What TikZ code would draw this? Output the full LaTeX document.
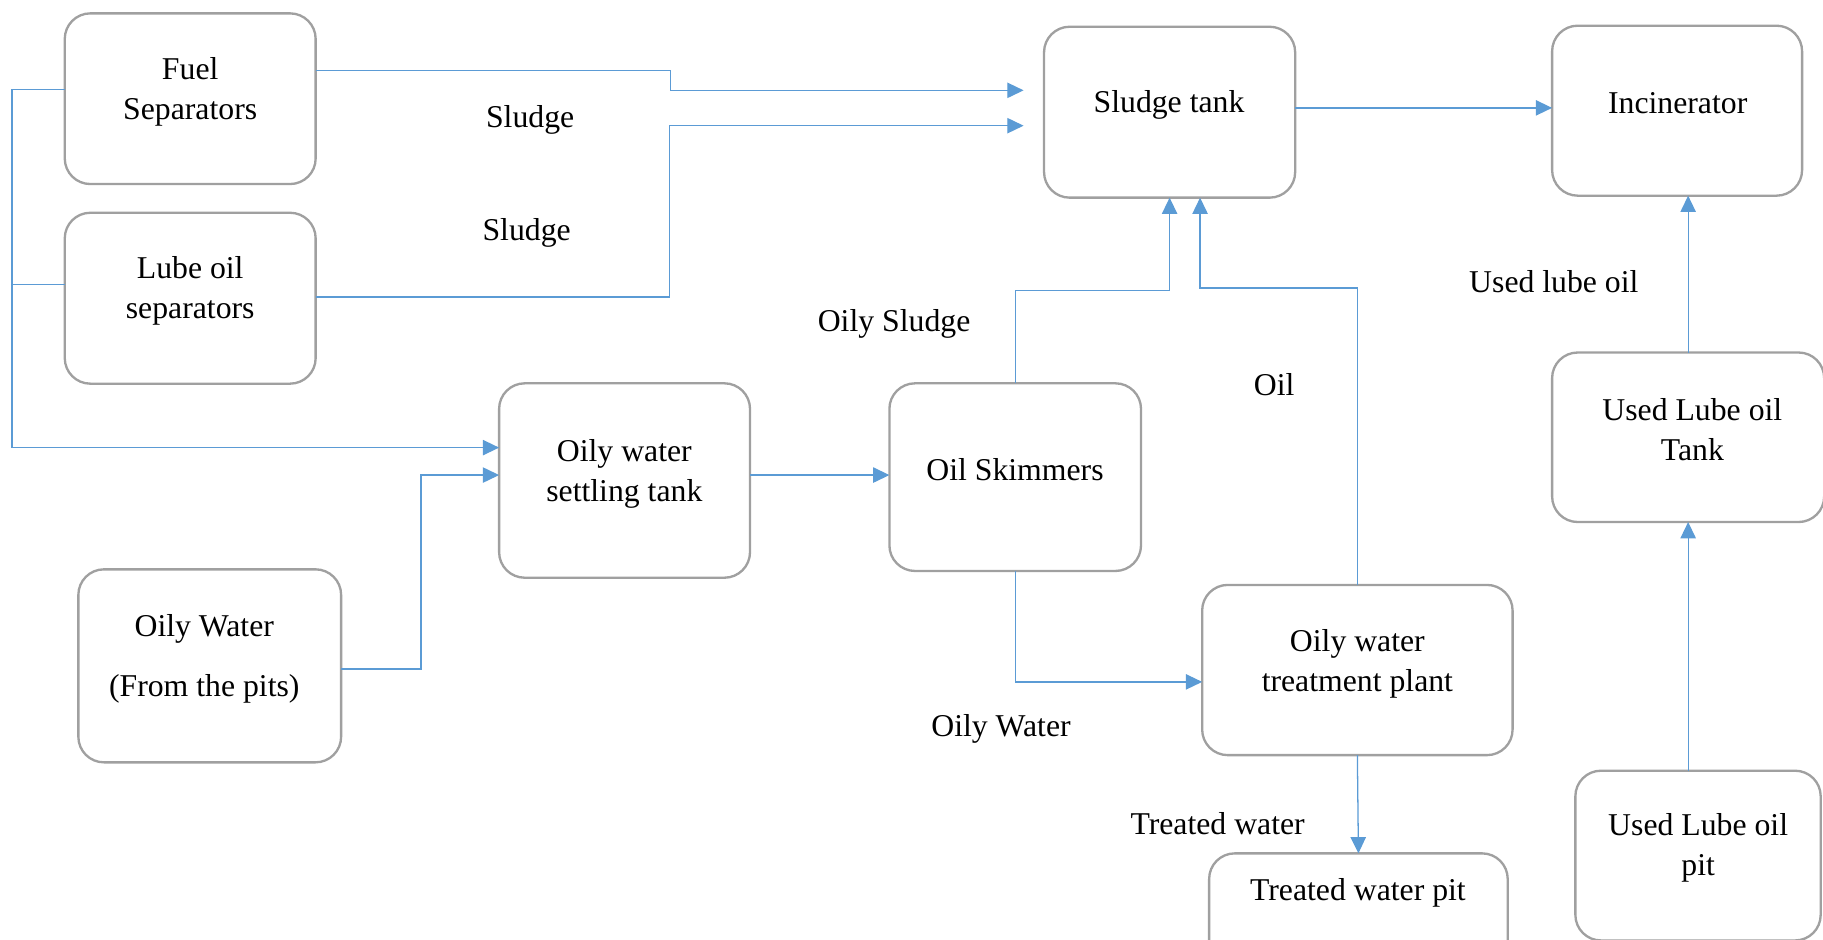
\documentclass[tikz,border=0pt]{standalone}
\usepackage{fontspec}
\setmainfont{Liberation Serif}
\usetikzlibrary{arrows.meta}
\definecolor{boxgray}{HTML}{A0A0A0}
\definecolor{linkblue}{HTML}{5B9BD5}
\begin{document}
\begin{tikzpicture}[x=0.5pt,y=-0.5pt,
  every node/.style={font=\fontsize{13.65pt}{17.2pt}\selectfont},
  box/.style={draw=boxgray, line width=1pt, rounded corners=11pt, inner sep=0pt, outer sep=0pt, fill=white},
  txt/.style={align=center, inner sep=0pt},
  lbl/.style={inner sep=0pt},
  conn/.style={draw=linkblue, line width=0.55pt},
  arr/.style={conn, -{Triangle[length=7pt,width=6.6pt]}}
]
\useasboundingbox (0,0) rectangle (1568,808);

% boxes
\node[box, minimum width=107.9pt, minimum height=73.4pt] (fuel) at (163.6,84.9) {};
\node[box, minimum width=107.9pt, minimum height=73.5pt] (lube) at (163.6,256.5) {};
\node[box, minimum width=108pt, minimum height=73.5pt] (sludge) at (1006,96.5) {};
\node[box, minimum width=107.5pt, minimum height=73.1pt] (incin) at (1442.5,95.2) {};
\node[box, minimum width=107.9pt, minimum height=83.6pt] (settle) at (537.2,413.3) {};
\node[box, minimum width=108.2pt, minimum height=80.7pt] (skim) at (873.2,410.4) {};
\node[box, minimum width=113pt, minimum height=83pt] (ow) at (180.4,572.7) {};
\node[box, minimum width=133.5pt, minimum height=73.2pt] (treat) at (1167.5,576.3) {};
\node[box, minimum width=128.4pt, minimum height=73pt] (twpit) at (1168.4,807) {};
\node[box, minimum width=117pt, minimum height=72.9pt] (ulotank) at (1452,376.1) {};
\node[box, minimum width=105.5pt, minimum height=73pt] (ulopit) at (1460.5,735.9) {};

% box texts
\node[txt] (fuelT) at (163.6,79) {Fuel\\Separators};
\node[txt] (lubeT) at (163.6,250.5) {Lube oil\\separators};
\node[txt] (sludgeT) at (1005.5,90.5) {Sludge tank};
\node[txt] (incinT) at (1443,89) {Incinerator};
\node[txt] (settleT) at (537,407.5) {Oily water\\settling tank};
\node[txt] (skimT) at (873,404) {Oil Skimmers};
\node[txt] (owT) at (175.7,567) {Oily Water\\[8.5pt](From the pits)};
\node[txt] (treatT) at (1167.5,571) {Oily water\\treatment plant};
\node[txt] (twpitT) at (1168,768) {Treated water pit};
\node[txt] (ulotankT) at (1455.6,369.5) {Used Lube oil\\Tank};
\node[txt] (ulopitT) at (1460.6,729.5) {Used Lube oil\\pit};

% connector labels
\node[lbl] (lS1) at (456,103) {Sludge};
\node[lbl] (lS2) at (453,200.5) {Sludge};
\node[lbl] (lOS) at (769,278.5) {Oily Sludge};
\node[lbl] (lOil) at (1096,330.5) {Oil};
\node[lbl] (lULO) at (1336.5,242.5) {Used lube oil};
\node[lbl] (lOW) at (861,627) {Oily Water};
\node[lbl] (lTW) at (1047.3,708.5) {Treated water};

% helper coordinates
\coordinate (tl) at (10.4,76.8);
\coordinate (tb) at (10.4,385);
\path (sludge.west) ++(-17.6,0) coordinate (sw);
\coordinate (oj) at (1032.2,247.6);

% connectors
\draw[arr] (fuel.west |- tl) -- (tl) -- (tb) -- (settle.west |- tb);
\draw[conn] (lube.west |- 0,244.6) -- (tl |- 0,244.6);
\draw[arr] (fuel.east |- 0,60.8) -| (576.7,77.7) -- (sw |- 0,77.7);
\draw[arr] (lube.east |- 0,255.5) -| (575.8,108.1) -- (sw |- 0,108.1);
\draw[arr] (sludge.east |- 0,92.8) -- (incin.west |- 0,92.8);
\draw[arr] (skim.north) -- (skim.north |- 0,249.8) -| (sludge.south);
\draw[arr] (treat.north) |- (oj) -- (oj |- sludge.south);
\draw[arr] (settle.east |- 0,408.6) -- (skim.west |- 0,408.6);
\draw[arr] (ow.east |- 0,575.5) -| (362.1,408.6) -- (settle.west |- 0,408.6);
\draw[arr] (skim.south) |- (treat.west |- 0,586.5);
\draw[arr] (treat.south) -- (twpit.north);
\draw[arr] (ulotank.north) -- (ulotank.north |- incin.south);
\draw[arr] (ulotank.south |- ulopit.north) -- (ulotank.south);
\end{tikzpicture}
\end{document}
